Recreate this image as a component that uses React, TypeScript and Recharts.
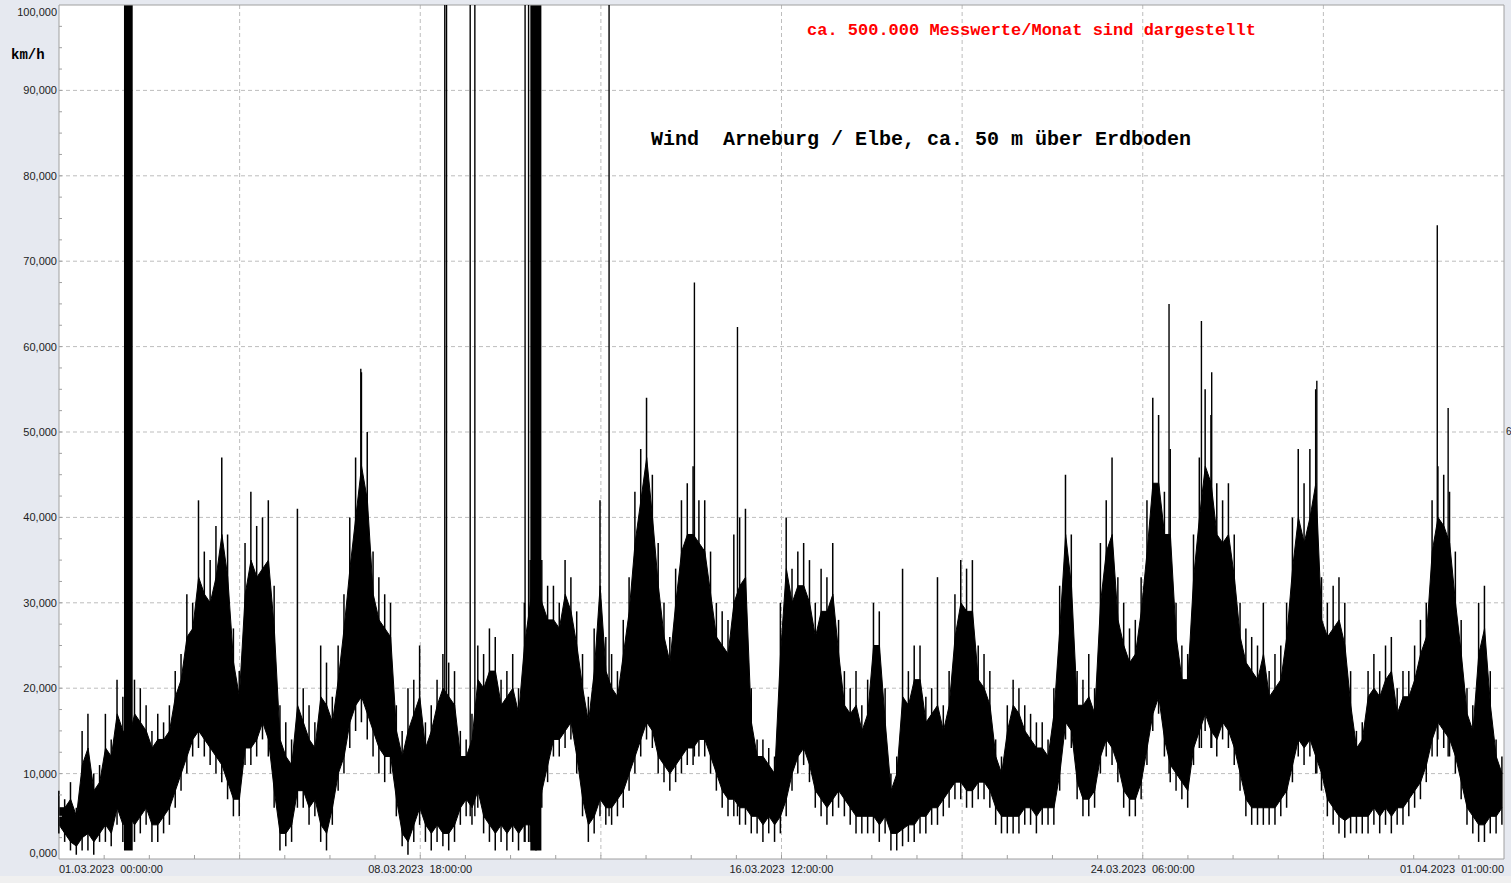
import { ComposedChart, Area, Bar, XAxis, YAxis, CartesianGrid, ReferenceLine, ReferenceArea } from "recharts";

// wind speed, one sample every 3 hours (km/h)
const STEP_HOURS = 3;

// outer envelope: highest / lowest single reading around each sample
const HI = [
  8, 7, 9, 6, 15, 17, 10, 11, 17, 14,
  21, 19, 17, 21, 20, 18, 15, 17, 16, 18,
  22, 24, 31, 30, 42, 36, 35, 39, 47, 38,
  27, 22, 37, 43, 39, 40, 42, 32, 18, 16,
  14, 41, 20, 18, 16, 25, 23, 19, 25, 31,
  40, 47, 57, 50, 36, 33, 31, 30, 18, 15,
  20, 21, 25, 16, 18, 21, 24, 23, 22, 15,
  14, 17, 25, 24, 27, 26, 21, 22, 24, 20,
  30, 35, 40, 35, 32, 32, 30, 35, 33, 29,
  24, 19, 27, 42, 26, 24, 22, 28, 33, 43,
  48, 54, 45, 37, 30, 26, 34, 42, 44, 46,
  42, 42, 36, 30, 29, 28, 38, 40, 41, 20,
  14, 14, 13, 12, 30, 40, 34, 36, 37, 35,
  30, 34, 33, 37, 28, 22, 20, 22, 18, 21,
  30, 29, 20, 10, 12, 34, 22, 25, 25, 19,
  20, 33, 18, 22, 31, 35, 34, 35, 25, 24,
  22, 14, 12, 18, 21, 20, 18, 17, 16, 16,
  14, 20, 32, 45, 38, 22, 21, 24, 20, 37,
  42, 47, 33, 30, 27, 28, 33, 42, 54, 52,
  43, 48, 30, 25, 24, 38, 47, 55, 52, 44,
  42, 44, 38, 30, 27, 26, 25, 30, 22, 24,
  25, 30, 40, 48, 44, 48, 55, 33, 30, 32,
  33, 30, 22, 15, 16, 22, 24, 22, 25, 26,
  20, 22, 22, 25, 28, 30, 42, 46, 45, 43,
  36, 28, 20, 18, 30, 32, 22, 14, 12,
];
const LO = [
  3, 2, 1, 0.5, 1, 1, 0.5, 2, 2, 1.5,
  4, 2, 3, 2, 3, 4, 2, 2, 3, 4,
  6, 8, 10, 12, 13, 12, 11, 10, 9, 7,
  5, 5, 11, 11, 12, 14, 12, 6, 1, 1.5,
  2, 6, 6, 4, 5, 2, 1, 4, 8, 10,
  13, 15, 16, 14, 12, 10, 9, 10, 5, 1.5,
  0.5, 2, 4, 2, 1, 2, 1.5, 1, 2, 4,
  5, 4, 6, 3, 2, 1, 2, 1, 2, 1,
  2, 2, 1, 6, 9, 12, 12, 13, 14, 10,
  5, 2, 3, 5, 4, 4, 5, 6, 8, 10,
  12, 14, 13, 10, 9, 8, 9, 10, 11, 11,
  12, 12, 10, 8, 6, 5, 5, 4, 4, 3,
  3, 2, 3, 2, 3, 5, 8, 10, 11, 9,
  6, 5, 4, 5, 6, 5, 4, 3, 3, 3,
  3, 2, 3, 1, 1, 1.5, 2, 2, 3, 3,
  4, 4, 5, 6, 7, 7, 6, 6, 7, 7,
  6, 4, 3, 3, 3, 3, 4, 4, 3, 4,
  4, 4, 8, 14, 13, 7, 5, 5, 6, 10,
  12, 11, 9, 6, 5, 5, 7, 11, 15, 17,
  12, 9, 8, 7, 6, 11, 13, 15, 13, 12,
  14, 13, 11, 8, 5, 4, 4, 4, 4, 4,
  5, 6, 9, 12, 11, 12, 10, 8, 5, 4,
  3, 2.5, 3, 3, 3, 3, 4, 3, 4, 3,
  4, 4, 5, 6, 7, 9, 12, 14, 13, 12,
  10, 7, 4, 3, 2, 2, 3, 3, 4,
];

// dense core where the trace is solid black
const CORE_HI = [
  6, 6, 7, 5, 11, 13, 8, 9, 13, 12,
  17, 15, 14, 17, 16, 15, 13, 14, 14, 15,
  19, 21, 26, 27, 33, 31, 30, 33, 38, 33,
  23, 19, 31, 35, 33, 34, 35, 27, 14, 12,
  11, 18, 16, 14, 13, 19, 18, 16, 21, 27,
  34, 40, 46, 42, 31, 28, 27, 26, 15, 12,
  15, 17, 19, 13, 15, 18, 20, 19, 18, 12,
  12, 14, 21, 20, 22, 22, 18, 19, 20, 17,
  25, 30, 34, 30, 28, 28, 27, 31, 29, 25,
  20, 16, 22, 32, 22, 20, 19, 24, 29, 37,
  42, 47, 40, 32, 26, 23, 30, 36, 38, 38,
  37, 36, 31, 26, 25, 24, 30, 32, 33, 16,
  12, 12, 11, 10, 24, 34, 30, 32, 32, 30,
  26, 29, 29, 31, 24, 18, 17, 18, 15, 17,
  25, 25, 16, 8, 10, 19, 18, 21, 21, 16,
  17, 18, 15, 18, 26, 30, 29, 29, 21, 20,
  18, 12, 10, 15, 18, 17, 15, 14, 13, 13,
  12, 17, 27, 38, 32, 18, 18, 19, 17, 30,
  36, 38, 28, 25, 23, 24, 29, 36, 44, 44,
  38, 38, 26, 21, 21, 33, 40, 46, 44, 38,
  37, 38, 33, 26, 23, 22, 21, 24, 19, 20,
  21, 26, 34, 40, 37, 40, 44, 28, 26, 27,
  28, 25, 18, 13, 14, 19, 20, 19, 21, 22,
  17, 19, 19, 21, 24, 26, 36, 40, 39, 37,
  30, 24, 17, 15, 24, 27, 18, 12, 10,
];
const CORE_LO = [
  4, 3, 2, 1.5, 2.5, 3, 2, 3, 4, 3,
  6, 4, 5, 4, 5, 6, 4, 4, 5, 6,
  8, 10, 12, 14, 15, 14, 13, 12, 11, 9,
  7, 7, 13, 13, 14, 16, 14, 8, 3, 3,
  4, 8, 8, 6, 7, 4, 3, 6, 10, 12,
  16, 18, 19, 17, 15, 13, 12, 12, 7, 3,
  2, 4, 6, 4, 3, 4, 3, 3, 4, 6,
  7, 6, 8, 5, 4, 3, 4, 3, 4, 3,
  4, 4, 3, 8, 11, 14, 14, 15, 16, 12,
  7, 4, 5, 7, 6, 6, 7, 8, 10, 12,
  14, 16, 15, 12, 11, 10, 11, 12, 13, 13,
  14, 14, 12, 10, 8, 7, 7, 6, 6, 5,
  5, 4, 5, 4, 5, 7, 10, 12, 13, 11,
  8, 7, 6, 7, 8, 7, 6, 5, 5, 5,
  5, 4, 5, 3, 3, 3.5, 4, 4, 5, 5,
  6, 6, 7, 8, 9, 9, 8, 8, 9, 9,
  8, 6, 5, 5, 5, 5, 6, 6, 5, 6,
  6, 6, 10, 16, 15, 9, 7, 7, 8, 12,
  14, 13, 11, 8, 7, 7, 9, 13, 17, 19,
  14, 11, 10, 9, 8, 13, 15, 17, 15, 14,
  16, 15, 13, 10, 7, 6, 6, 6, 6, 6,
  7, 8, 11, 14, 13, 14, 12, 10, 7, 6,
  5, 4.5, 5, 5, 5, 5, 6, 5, 6, 5,
  6, 6, 7, 8, 9, 11, 14, 16, 15, 14,
  12, 9, 6, 5, 4, 4, 5, 5, 6,
];

// single outlier readings (hour, from, to)
const SPIKE_T = [155.6, 198.9, 199.8, 212.0, 214.4, 240.3, 242.1, 283.6, 327.6, 349.8, 572.3, 589.0, 594.3, 648.5, 710.6, 716.2];
const SPIKE_FROM = [20, 3, 3, 5, 5, 2, 2, 5, 12, 5, 10, 13, 13, 10, 12, 12];
const SPIKE_TO = [57.4, 100, 100, 100, 100, 100, 100, 100, 67.5, 62.3, 65, 63, 57, 56, 74.2, 52.8];

// blocks of outliers that merge into solid bars (start hour, end hour)
const BLOCK_START = [33.5, 243.0];
const BLOCK_END = [38.0, 248.7];
const BLOCK_FROM = [1, 1];

const X_MAX = 745;
const X_LABELS = ["01.03.2023  00:00:00", "08.03.2023  18:00:00", "16.03.2023  12:00:00", "24.03.2023  06:00:00", "01.04.2023  01:00:00"];
const Y_TICKS = Array.from({ length: 41 }, (_, i) => i * 2.5);
const X_TICKS = Array.from({ length: 33 }, (_, i) => (X_MAX * i) / 32);
const Y_GRID = [10, 20, 30, 40, 50, 60, 70, 80, 90];
const X_GRID = [1, 2, 3, 4, 5, 6, 7].map((i) => (X_MAX * i) / 8);

const data = HI.map((hi, i) => ({
  t: i * STEP_HOURS,
  core: [CORE_LO[i], CORE_HI[i]],
  whisker: [LO[i], hi],
}));

const fmtY = (v: number) => v.toFixed(3).replace(".", ",");

const XTick = (props: any) => {
  const { x, y, payload } = props;
  const i = Math.round((payload.value * 32) / X_MAX);
  const li = i % 8 === 0 ? i / 8 : -1;
  const anchor = li === 0 ? "start" : li === 4 ? "end" : "middle";
  return (
    <g>
      {i > 0 && i < 32 && <line x1={x} x2={x} y1={y} y2={y - 4} stroke="#a0a0a0" />}
      {li >= 0 && (
        <text x={x} y={y + 14} textAnchor={anchor} fontSize={11} fontFamily="Liberation Sans, Arial" fill="#222" style={{ whiteSpace: "pre" }}>
          {X_LABELS[li]}
        </text>
      )}
    </g>
  );
};

const YTick = (props: any) => {
  const { x, y, payload } = props;
  const v = payload.value;
  const major = v % 10 === 0;
  const dy = v === 100 ? 11 : v === 0 ? -2 : 4;
  return (
    <g>
      {v > 0 && v < 100 && <line x1={x} x2={x + 3} y1={y} y2={y} stroke="#a0a0a0" />}
      {major && (
        <text x={x - 2} y={y + dy} textAnchor="end" fontSize={11} fontFamily="Liberation Sans, Arial" fill="#222">
          {fmtY(v)}
        </text>
      )}
    </g>
  );
};

export default function App() {
  return (
    <div style={{ position: "fixed", left: 0, top: 0, width: 1511, height: 883, background: "#e6e9f0", overflow: "hidden" }}>
      <ComposedChart width={1511} height={876} data={data} margin={{ top: 5, right: 7, bottom: 0, left: 0 }}>
        <CartesianGrid fill="#fff" stroke="#bdbdbd" strokeDasharray="4 3" horizontalValues={Y_GRID} verticalValues={X_GRID} />
        <XAxis
          dataKey="t"
          type="number"
          domain={[0, X_MAX]}
          ticks={X_TICKS}
          interval={0}
          height={17}
          tickSize={0}
          tickMargin={0}
          axisLine={false}
          tick={<XTick />}
        />
        <YAxis
          type="number"
          domain={[0, 100]}
          ticks={Y_TICKS}
          interval={0}
          width={59}
          tickSize={0}
          tickMargin={0}
          axisLine={false}
          tick={<YTick />}
        />
        <Area
          dataKey="core"
          type="linear"
          stroke="#000"
          strokeWidth={1}
          fill="#000"
          fillOpacity={1}
          dot={false}
          activeDot={false}
          isAnimationActive={false}
        />
        <Bar dataKey="whisker" barSize={1.5} fill="#000" isAnimationActive={false} />
        {BLOCK_START.map((s, i) => (
          <ReferenceArea key={"b" + i} x1={s} x2={BLOCK_END[i]} y1={BLOCK_FROM[i]} y2={100} fill="#000" fillOpacity={1} stroke="none" />
        ))}
        {SPIKE_T.map((t, i) => (
          <ReferenceLine
            key={"s" + i}
            segment={[
              { x: t, y: SPIKE_FROM[i] },
              { x: t, y: SPIKE_TO[i] },
            ]}
            stroke="#000"
            strokeWidth={1.4}
          />
        ))}
        <ReferenceArea x1={0} x2={X_MAX} y1={0} y2={100} fill="none" stroke="#a0a0a0" />
      </ComposedChart>
      <div style={{ position: "absolute", left: 0, top: 876, width: 1511, height: 7, background: "#f0f0f0" }} />
      <div style={{ position: "absolute", left: 11, top: 46, fontFamily: "Liberation Mono, Courier New", fontWeight: "bold", fontSize: 14, lineHeight: "18px", color: "#000" }}>
        km/h
      </div>
      <div style={{ position: "absolute", left: 807, top: 21, fontFamily: "Liberation Mono, Courier New", fontWeight: "bold", fontSize: 17, lineHeight: "20px", color: "#f00", whiteSpace: "pre" }}>
        ca. 500.000 Messwerte/Monat sind dargestellt
      </div>
      <div style={{ position: "absolute", left: 651, top: 129, fontFamily: "Liberation Mono, Courier New", fontWeight: "bold", fontSize: 20, lineHeight: "22px", color: "#000", whiteSpace: "pre" }}>
        Wind  Arneburg / Elbe, ca. 50 m über Erdboden
      </div>
      <div style={{ position: "absolute", left: 1506, top: 425, fontFamily: "Liberation Sans, Arial", fontSize: 10, lineHeight: "14px", color: "#222" }}>
        6
      </div>
    </div>
  );
}
